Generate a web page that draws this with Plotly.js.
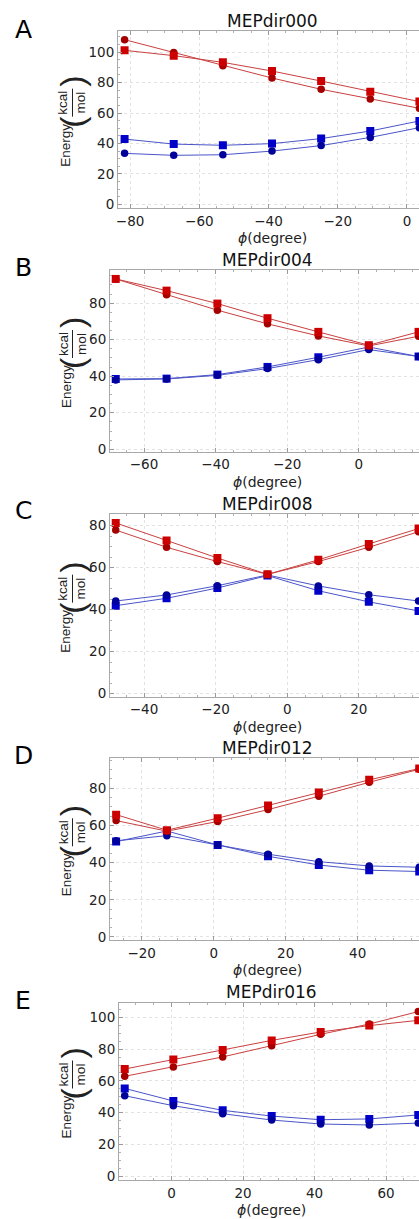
<!DOCTYPE html>
<html><head><meta charset="utf-8">
<script src="https://cdn.plot.ly/plotly-3.0.1.min.js"></script>
<style>html,body{margin:0;padding:0;overflow:hidden;background:#fff}#chart{width:430px;height:1219px}</style>
</head><body><div id="chart"></div>
<script>
// ---- data ----
const titles = ['MEPdir000','MEPdir004','MEPdir008','MEPdir012','MEPdir016'];
const letters = ['A','B','C','D','E'];

const phiA = [-81.6, -67.4, -53.2, -39.0, -24.8, -10.6, 3.6];
const A_redCircle  = [108.2, 99.7, 91.1, 83.0, 75.6, 69.2, 63.1];
const A_redSquare  = [101.2, 97.7, 93.3, 87.6, 81.0, 74.0, 67.5];
const A_blueSquare = [42.9, 39.6, 38.8, 39.9, 43.2, 48.2, 54.8];
const A_blueCircle = [33.5, 32.2, 32.6, 35.0, 38.6, 44.0, 50.4];

const phiB = [-67.9, -53.7, -39.5, -25.5, -11.3, 2.8, 16.7];
const B_redSquare  = [93.3, 86.9, 79.8, 71.8, 64.3, 57.0, 64.3];
const B_redCircle  = [93.3, 84.6, 76.2, 68.7, 62.1, 56.6, 61.9];
const B_blueSquare = [38.5, 38.7, 40.9, 45.1, 50.4, 56.0, 50.8];
const B_blueCircle = [38.0, 38.5, 40.5, 44.2, 49.1, 54.6, 50.8];

const phiC = [-47.9, -33.7, -19.5, -5.5, 8.7, 22.8, 36.7];
const C_redSquare  = [81.3, 72.9, 64.6, 56.8, 63.7, 71.3, 78.6];
const C_redCircle  = [77.9, 69.7, 62.9, 56.8, 62.9, 69.7, 77.1];
const C_blueSquare = [41.9, 45.4, 50.3, 56.2, 49.0, 43.7, 39.4];
const C_blueCircle = [44.1, 47.0, 51.4, 56.5, 51.3, 47.1, 44.1];

const phiD = [-27.1, -13.0, 1.1, 15.1, 29.2, 43.2, 57.1];
const D_redSquare  = [65.8, 57.4, 63.9, 70.7, 77.7, 84.5, 90.6];
const D_redCircle  = [62.6, 56.9, 62.1, 68.5, 75.7, 83.2, 90.2];
const D_blueSquare = [51.3, 57.0, 49.5, 43.4, 38.7, 35.9, 35.2];
const D_blueCircle = [51.7, 54.5, 49.5, 44.5, 40.5, 38.2, 37.5];

const phiE = [-13.1, 0.5, 14.3, 28.0, 41.7, 55.3, 69.0];
const E_redSquare  = [67.5, 73.4, 79.5, 85.5, 90.8, 94.8, 98.1];
const E_redCircle  = [62.9, 68.8, 75.1, 82.2, 89.3, 95.8, 103.6];
const E_blueSquare = [55.3, 47.4, 41.5, 37.9, 35.6, 36.1, 38.6];
const E_blueCircle = [50.7, 44.4, 39.4, 35.4, 32.9, 32.3, 33.5];

const xTicksA = [-80, -60, -40, -20, 0];
const xTicksB = [-60, -40, -20, 0];
const xTicksC = [-40, -20, 0, 20];
const xTicksD = [-20, 0, 20, 40];
const xTicksE = [0, 20, 40, 60];
const yTicksA = [0, 20, 40, 60, 80, 100];
const yTicksB = [0, 20, 40, 60, 80];
const yTicksC = [0, 20, 40, 60, 80];
const yTicksD = [0, 20, 40, 60, 80];
const yTicksE = [0, 20, 40, 60, 80, 100];

// ---- layout geometry (pixels) ----
const W = 430, H = 1219;
const panels = [
  {phi: phiA, rs: A_redSquare, rc: A_redCircle, bs: A_blueSquare, bc: A_blueCircle, xt: xTicksA, yt: yTicksA,
   box: [118, 426, 31, 208.3], xr: [-83.5, 5.5], yr: [-2.6, 113.9], lett: [23, 30]},
  {phi: phiB, rs: B_redSquare, rc: B_redCircle, bs: B_blueSquare, bc: B_blueCircle, xt: xTicksB, yt: yTicksB,
   box: [110, 425, 270, 452], xr: [-69.5, 18.5], yr: [-1.5, 98.2], lett: [23, 267]},
  {phi: phiC, rs: C_redSquare, rc: C_redCircle, bs: C_blueSquare, bc: C_blueCircle, xt: xTicksC, yt: yTicksC,
   box: [110, 425, 514.3, 697], xr: [-49.5, 38.5], yr: [-1.6, 85.4], lett: [23, 510]},
  {phi: phiD, rs: D_redSquare, rc: D_redCircle, bs: D_blueSquare, bc: D_blueCircle, xt: xTicksD, yt: yTicksD,
   box: [110, 425, 758.3, 940.3], xr: [-28.8, 58.7], yr: [-1.8, 96.1], lett: [23, 755]},
  {phi: phiE, rs: E_redSquare, rc: E_redCircle, bs: E_blueSquare, bc: E_blueCircle, xt: xTicksE, yt: yTicksE,
   box: [119, 424, 1002.7, 1180.3], xr: [-14.7, 70.6], yr: [-2.5, 109.2], lett: [23, 1000]}
];

const px = v => v / W;
const py = v => 1 - v / H;

const RED_LINE = '#c8403f', BLUE_LINE = '#4a55c8';
const traces = [];
const layout = {
  width: W, height: H, margin: {l: 0, r: 0, t: 0, b: 0},
  paper_bgcolor: '#fff', plot_bgcolor: '#fff', showlegend: false,
  annotations: [], shapes: []
};
const tickFont = {family: 'DejaVu Sans, sans-serif', size: 13.5, color: '#222'};
const lblFont = {family: 'Liberation Sans, Arial, sans-serif', size: 13.5, color: '#222'};
const parFont = {family: 'Liberation Sans, Arial, sans-serif', size: 34, color: '#222'};

panels.forEach((p, i) => {
  const n = i + 1;
  const xa = 'x' + (n === 1 ? '' : n), ya = 'y' + (n === 1 ? '' : n);
  const [l, r, t, b] = p.box;
  const series = [
    {y: p.bs, sym: 'square', col: '#0000c8', lc: BLUE_LINE},
    {y: p.bc, sym: 'circle', col: '#00009a', lc: BLUE_LINE},
    {y: p.rc, sym: 'circle', col: '#a50000', lc: RED_LINE},
    {y: p.rs, sym: 'square', col: '#cc0000', lc: RED_LINE}
  ];
  series.forEach(s => traces.push({
    x: p.phi, y: s.y, xaxis: xa, yaxis: ya, type: 'scatter', mode: 'lines+markers',
    line: {color: s.lc, width: 1},
    marker: {symbol: s.sym, size: s.sym === 'square' ? 8 : 7.5, color: s.col}
  }));
  const common = {
    ticks: 'inside', ticklen: 4, tickcolor: '#9a9a9a', tickwidth: 1,
    showline: true, linecolor: '#a8a8a8', linewidth: 1, mirror: 'ticks',
    showgrid: true, gridcolor: '#e2e2e2', griddash: 'dot', gridwidth: 1,
    zeroline: false, tickfont: tickFont, fixedrange: true,
    minor: {dtick: 5, tick0: 0, ticks: 'inside', ticklen: 2, tickcolor: '#b0b0b0', showgrid: false}
  };
  layout['xaxis' + (n === 1 ? '' : n)] = Object.assign({}, common, {
    domain: [px(l), px(r)], range: p.xr, anchor: ya, tickmode: 'array', tickvals: p.xt
  });
  layout['yaxis' + (n === 1 ? '' : n)] = Object.assign({}, common, {
    domain: [py(b), py(t)], range: p.yr, anchor: xa, tickmode: 'array', tickvals: p.yt
  });
  const xc = (l + r) / 2, yc = (t + b) / 2;
  const A = layout.annotations;
  A.push({xref: 'paper', yref: 'paper', x: px(p.lett[0]), y: py(p.lett[1]), text: letters[i], showarrow: false,
    xanchor: 'center', yanchor: 'middle', font: {family: 'DejaVu Sans, sans-serif', size: 25, color: '#000'}});
  A.push({xref: 'paper', yref: 'paper', x: px(xc), y: py(t - 10.5), text: titles[i], showarrow: false,
    xanchor: 'center', yanchor: 'middle', font: {family: 'DejaVu Sans, sans-serif', size: 17, color: '#111'}});
  A.push({xref: 'paper', yref: 'paper', x: px(xc), y: py(b + 30), text: '<i>ϕ</i>(degree)', showarrow: false,
    xanchor: 'center', yanchor: 'middle', font: {family: 'DejaVu Sans, sans-serif', size: 14, color: '#222'}});
  // y label: Energy ( kcal / mol )
  A.push({xref: 'paper', yref: 'paper', x: px(66), y: py(yc + 26), text: 'Energy', textangle: -90, showarrow: false,
    xanchor: 'center', yanchor: 'middle', font: lblFont});
  A.push({xref: 'paper', yref: 'paper', x: px(72), y: py(yc + 2), text: '(', textangle: -90, showarrow: false,
    xanchor: 'center', yanchor: 'middle', font: parFont});
  A.push({xref: 'paper', yref: 'paper', x: px(72), y: py(yc - 17), text: 'kcal<br>mol', textangle: -90, showarrow: false,
    xanchor: 'center', yanchor: 'middle', font: lblFont});
  A.push({xref: 'paper', yref: 'paper', x: px(72), y: py(yc - 38), text: ')', textangle: -90, showarrow: false,
    xanchor: 'center', yanchor: 'middle', font: parFont});
  layout.shapes.push({type: 'line', xref: 'paper', yref: 'paper', x0: px(72.5), x1: px(72.5), y0: py(yc - 31), y1: py(yc - 3),
    line: {color: '#222', width: 1}});
});

Plotly.newPlot('chart', traces, layout, {displayModeBar: false, staticPlot: true});
</script>
</body></html>
